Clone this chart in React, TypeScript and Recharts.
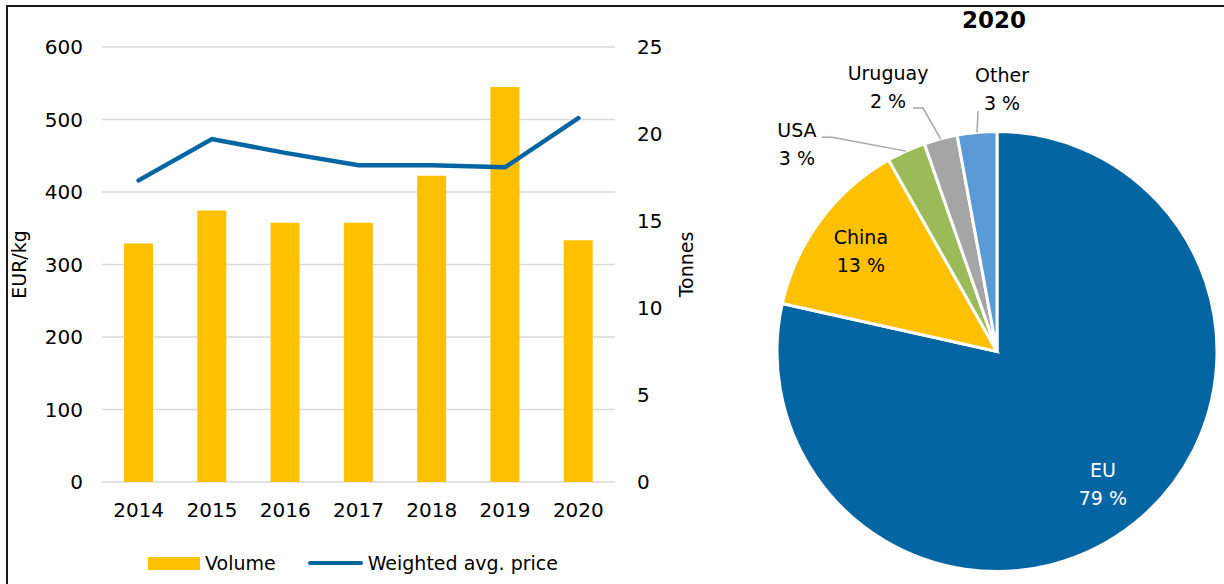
import React from "react";
import {
  ComposedChart,
  Bar,
  Line,
  XAxis,
  YAxis,
  CartesianGrid,
  PieChart,
  Pie,
  Cell,
} from "recharts";

// left chart: volume (tonnes, right axis) and price (EUR/kg, left axis)
const years = ["2014", "2015", "2016", "2017", "2018", "2019", "2020"];
const volumeTonnes = [13.7, 15.6, 14.9, 14.9, 17.6, 22.7, 13.9];
const priceEurKg = [416, 473, 454, 437, 437, 434, 502];
const priceTicks = [0, 100, 200, 300, 400, 500, 600];
const tonneTicks = [0, 5, 10, 15, 20, 25];

// right chart: 2020 origin shares (%)
const originNames = ["EU", "China", "USA", "Uruguay", "Other"];
const originShares = [78.5, 13.3, 2.85, 2.45, 2.9];
const originColors = ["#0465A3", "#FFC000", "#9BBB59", "#A5A5A5", "#5B9BD5"];

const YELLOW = "#FFC000";
const BLUE = "#0465A3";
const FONT = "'DejaVu Sans', sans-serif";

const barData = years.map((y, i) => ({
  year: y,
  volume: volumeTonnes[i],
  price: priceEurKg[i],
}));

const pieData = originNames.map((n, i) => ({ name: n, value: originShares[i] }));

// placement of the labels that sit outside the pie (angle in degrees, radius px)
const outsideLabels: Record<
  string,
  { angle: number; r: number; elbow: [number, number]; tail: number }
> = {
  USA: { angle: 134, r: 288, elbow: [35, -7], tail: -10 },
  Uruguay: { angle: 112.4, r: 286, elbow: [35, 21], tail: -10 },
  Other: { angle: 88.9, r: 262.5, elbow: [-24, 22], tail: 0 },
};

const RAD = Math.PI / 180;
const polar = (cx: number, cy: number, r: number, deg: number) => [
  cx + r * Math.cos(-deg * RAD),
  cy + r * Math.sin(-deg * RAD),
];

const renderPieLabel = (props: any) => {
  const { cx, cy, midAngle, outerRadius, index } = props;
  const name = originNames[index];
  const pct = Math.round(originShares[index]) + " %";
  const out = outsideLabels[name];
  if (!out) {
    const [x, y] = polar(cx, cy, outerRadius * 0.77, midAngle);
    return (
      <text
        textAnchor="middle"
        dominantBaseline="central"
        fontSize={19}
        fontFamily={FONT}
        fill={name === "EU" ? "#fff" : "#000"}
      >
        <tspan x={x} y={y - 14}>{name}</tspan>
        <tspan x={x} y={y + 14}>{pct}</tspan>
      </text>
    );
  }
  const [lx, ly] = polar(cx, cy, out.r, out.angle);
  const [ex, ey] = polar(cx, cy, outerRadius, midAngle);
  const bx = lx + out.elbow[0];
  const by = ly + out.elbow[1];
  return (
    <g>
      <polyline
        points={`${ex},${ey} ${bx},${by} ${bx + out.tail},${by}`}
        fill="none"
        stroke="#A6A6A6"
        strokeWidth={1.5}
      />
      <text
        textAnchor="middle"
        dominantBaseline="central"
        fontSize={19}
        fontFamily={FONT}
        fill="#000"
      >
        <tspan x={lx} y={ly - 14}>{name}</tspan>
        <tspan x={lx} y={ly + 14}>{pct}</tspan>
      </text>
    </g>
  );
};

const AxisTitle = ({ viewBox, value, dx }: any) => {
  const x = viewBox.x + dx;
  const y = viewBox.y + viewBox.height / 2;
  return (
    <text
      x={x}
      y={y}
      transform={`rotate(-90, ${x}, ${y})`}
      textAnchor="middle"
      fontSize={19}
      fontFamily={FONT}
      fill="#000"
    >
      {value}
    </text>
  );
};

const tickStyle = { fill: "#000", fontSize: 20, fontFamily: FONT };

export default function App() {
  return (
    <div
      style={{
        position: "absolute",
        left: 0,
        top: 0,
        width: 1224,
        height: 584,
        overflow: "hidden",
        background: "#fff",
        fontFamily: FONT,
      }}
    >
      <div
        style={{
          position: "absolute",
          left: 6,
          top: 5,
          width: 1400,
          height: 800,
          borderTop: "2px solid #1a1a1a",
          borderLeft: "2px solid #1a1a1a",
        }}
      />

      <div style={{ position: "absolute", left: 0, top: 0 }}>
        <ComposedChart
          width={720}
          height={584}
          data={barData}
          margin={{ top: 47, right: 0, bottom: 72, left: 0 }}
        >
          <CartesianGrid
            yAxisId="left"
            vertical={false}
            stroke="#D9D9D9"
            strokeWidth={1.5}
          />
          <XAxis
            dataKey="year"
            height={30}
            axisLine={false}
            tickLine={false}
            tickSize={0}
            tickMargin={21}
            tick={tickStyle}
          />
          <YAxis
            yAxisId="left"
            orientation="left"
            width={102}
            domain={[0, 600]}
            ticks={priceTicks}
            axisLine={false}
            tickLine={false}
            tickSize={0}
            tickMargin={19}
            tick={tickStyle}
            label={<AxisTitle value="EUR/kg" dx={26} />}
          />
          <YAxis
            yAxisId="right"
            orientation="right"
            width={105}
            domain={[0, 25]}
            ticks={tonneTicks}
            axisLine={false}
            tickLine={false}
            tickSize={0}
            tickMargin={22}
            tick={{ ...tickStyle, textAnchor: "start" }}
            label={<AxisTitle value="Tonnes" dx={78} />}
          />
          <Bar
            yAxisId="right"
            dataKey="volume"
            name="Volume"
            fill={YELLOW}
            barSize={29}
            isAnimationActive={false}
          />
          <Line
            yAxisId="left"
            dataKey="price"
            name="Weighted avg. price"
            type="linear"
            stroke={BLUE}
            strokeWidth={4.5}
            strokeLinecap="round"
            dot={false}
            activeDot={false}
            isAnimationActive={false}
          />
        </ComposedChart>
      </div>

      <div
        style={{
          position: "absolute",
          left: 148,
          top: 550,
          height: 26,
          display: "flex",
          alignItems: "center",
          fontSize: 19,
          color: "#000",
          whiteSpace: "nowrap",
        }}
      >
        <span style={{ width: 52, height: 13, background: YELLOW, marginRight: 5 }} />
        <span style={{ marginRight: 32 }}>Volume</span>
        <span
          style={{
            width: 55,
            height: 4.5,
            borderRadius: 2.5,
            background: BLUE,
            marginRight: 5,
          }}
        />
        <span>Weighted avg. price</span>
      </div>

      <div
        style={{
          position: "absolute",
          left: 894,
          width: 200,
          top: 6,
          textAlign: "center",
          fontSize: 23,
          fontWeight: "bold",
          lineHeight: "28px",
          color: "#000",
        }}
      >
        2020
      </div>

      <div style={{ position: "absolute", left: 730, top: 0 }}>
        <PieChart width={494} height={584} margin={{ top: 0, right: 0, bottom: 0, left: 0 }}>
          <Pie
            data={pieData}
            dataKey="value"
            nameKey="name"
            cx={267}
            cy={351.5}
            outerRadius={220}
            startAngle={90}
            endAngle={-270}
            stroke="#fff"
            strokeWidth={3}
            label={renderPieLabel}
            labelLine={false}
            isAnimationActive={false}
          >
            {pieData.map((d, i) => (
              <Cell key={d.name} fill={originColors[i]} />
            ))}
          </Pie>
        </PieChart>
      </div>
    </div>
  );
}
